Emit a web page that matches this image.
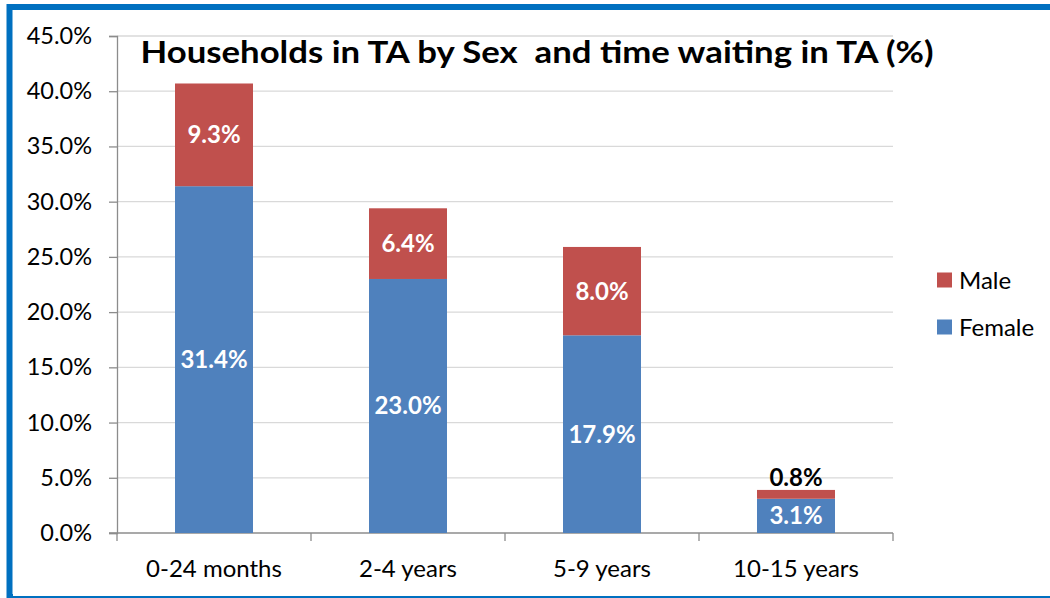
<!DOCTYPE html>
<html>
<head>
<meta charset="utf-8">
<script src="https://cdn.jsdelivr.net/npm/d3@7"></script>
<style>
  body { margin: 0; background: #fff; }
  text { font-family: Lato, "Open Sans", sans-serif; }
</style>
</head>
<body>
<div id="chart"></div>
<script>
const categories = ["0-24 months", "2-4 years", "5-9 years", "10-15 years"];
const female = [31.4, 23.0, 17.9, 3.1];
const male = [9.3, 6.4, 8.0, 0.8];
const yTicks = [0, 5, 10, 15, 20, 25, 30, 35, 40, 45];
const seriesNames = ["Male", "Female"];
const title = "Households in TA by Sex  and time waiting in TA (%)";

const width = 1050,
  height = 598;
const margin = { top: 36, right: 157, bottom: 65, left: 117 };
const colors = { Male: "#c0504d", Female: "#4f81bd" };

const svg = d3
  .select("#chart")
  .append("svg")
  .attr("width", width)
  .attr("height", height);

// blue frame around the chart
svg
  .append("rect")
  .attr("x", 9.5)
  .attr("y", 7)
  .attr("width", 1100)
  .attr("height", 590)
  .attr("fill", "#fff")
  .attr("stroke", "#0070c0")
  .attr("stroke-width", 6);
svg
  .append("rect")
  .attr("x", 13)
  .attr("y", 11)
  .attr("width", 1100)
  .attr("height", 585)
  .attr("fill", "#fff");

const x = d3
  .scaleBand()
  .domain(categories)
  .range([margin.left, width - margin.right]);
const y = d3
  .scaleLinear()
  .domain([0, 45])
  .range([height - margin.bottom, margin.top]);

const barW = x.bandwidth() * 0.402;

// gridlines
svg
  .selectAll(".grid")
  .data(yTicks.slice(1))
  .enter()
  .append("line")
  .attr("class", "grid")
  .attr("x1", margin.left)
  .attr("x2", width - margin.right)
  .attr("y1", (d) => y(d))
  .attr("y2", (d) => y(d))
  .attr("stroke", "#d9d9d9")
  .attr("stroke-width", 1.3);

// y axis
const yAxis = svg
  .append("g")
  .attr("transform", `translate(${margin.left},0)`)
  .call(
    d3
      .axisLeft(y)
      .tickValues(yTicks)
      .tickFormat((d) => d.toFixed(1) + "%")
      .tickSize(8)
      .tickPadding(17)
  );
yAxis.select(".domain").attr("stroke", "#8c8c8c").attr("stroke-width", 1.3);
yAxis.selectAll(".tick line").attr("stroke", "#8c8c8c").attr("stroke-width", 1.3);
yAxis
  .selectAll(".tick text")
  .attr("font-size", 23.5)
  .attr("fill", "#000")
  .attr("font-family", "Lato");

// x axis
const base = y(0);
svg
  .append("line")
  .attr("x1", margin.left - 8)
  .attr("x2", width - margin.right)
  .attr("y1", base)
  .attr("y2", base)
  .attr("stroke", "#8c8c8c")
  .attr("stroke-width", 1.3);

const bounds = categories.map((c) => x(c)).concat([x.range()[1]]);
svg
  .selectAll(".xtick")
  .data(bounds)
  .enter()
  .append("line")
  .attr("class", "xtick")
  .attr("x1", (d) => d)
  .attr("x2", (d) => d)
  .attr("y1", base)
  .attr("y2", base + 8)
  .attr("stroke", "#8c8c8c")
  .attr("stroke-width", 1.3);

svg
  .selectAll(".xlabel")
  .data(categories)
  .enter()
  .append("text")
  .attr("class", "xlabel")
  .attr("x", (d) => x(d) + x.bandwidth() / 2)
  .attr("y", 577)
  .attr("text-anchor", "middle")
  .attr("font-size", 24)
  .text((d) => d);

// stacked bars
const rows = categories.map((c, i) => ({ cat: c, Female: female[i], Male: male[i] }));
const stack = d3.stack().keys(["Female", "Male"])(rows);

stack.forEach((layer) => {
  svg
    .selectAll(".bar-" + layer.key)
    .data(layer)
    .enter()
    .append("rect")
    .attr("class", "bar-" + layer.key)
    .attr("x", (d) => x(d.data.cat) + (x.bandwidth() - barW) / 2)
    .attr("width", barW)
    .attr("y", (d) => y(d[1]))
    .attr("height", (d) => y(d[0]) - y(d[1]))
    .attr("fill", colors[layer.key]);

  svg
    .selectAll(".lbl-" + layer.key)
    .data(layer)
    .enter()
    .append("text")
    .attr("class", "lbl-" + layer.key)
    .attr("x", (d) => x(d.data.cat) + x.bandwidth() / 2)
    .attr("y", (d) => {
      const small = y(d[0]) - y(d[1]) < 20;
      return small ? y(d[1]) - 4 : (y(d[0]) + y(d[1])) / 2 + 8.5;
    })
    .attr("text-anchor", "middle")
    .attr("font-size", 24)
    .attr("font-weight", "bold")
    .attr("fill", (d) => (y(d[0]) - y(d[1]) < 20 ? "#000" : "#fff"))
    .text((d) => d.data[layer.key].toFixed(1) + "%");
});

// title
svg
  .append("text")
  .attr("x", 537)
  .attr("y", 63)
  .attr("text-anchor", "middle")
  .attr("font-size", 31)
  .attr("font-weight", "bold")
  .style("white-space", "pre")
  .attr("textLength", 793)
  .attr("lengthAdjust", "spacingAndGlyphs")
  .text(title);

// legend
const legend = svg
  .selectAll(".legend")
  .data(seriesNames)
  .enter()
  .append("g")
  .attr("class", "legend")
  .attr("transform", (d, i) => `translate(937,${280 + i * 47})`);
legend
  .append("rect")
  .attr("x", 0)
  .attr("y", -7.5)
  .attr("width", 15)
  .attr("height", 15)
  .attr("fill", (d) => colors[d]);
legend
  .append("text")
  .attr("x", 22)
  .attr("y", 8.5)
  .attr("font-size", 24)
  .text((d) => d);
</script>
</body>
</html>
